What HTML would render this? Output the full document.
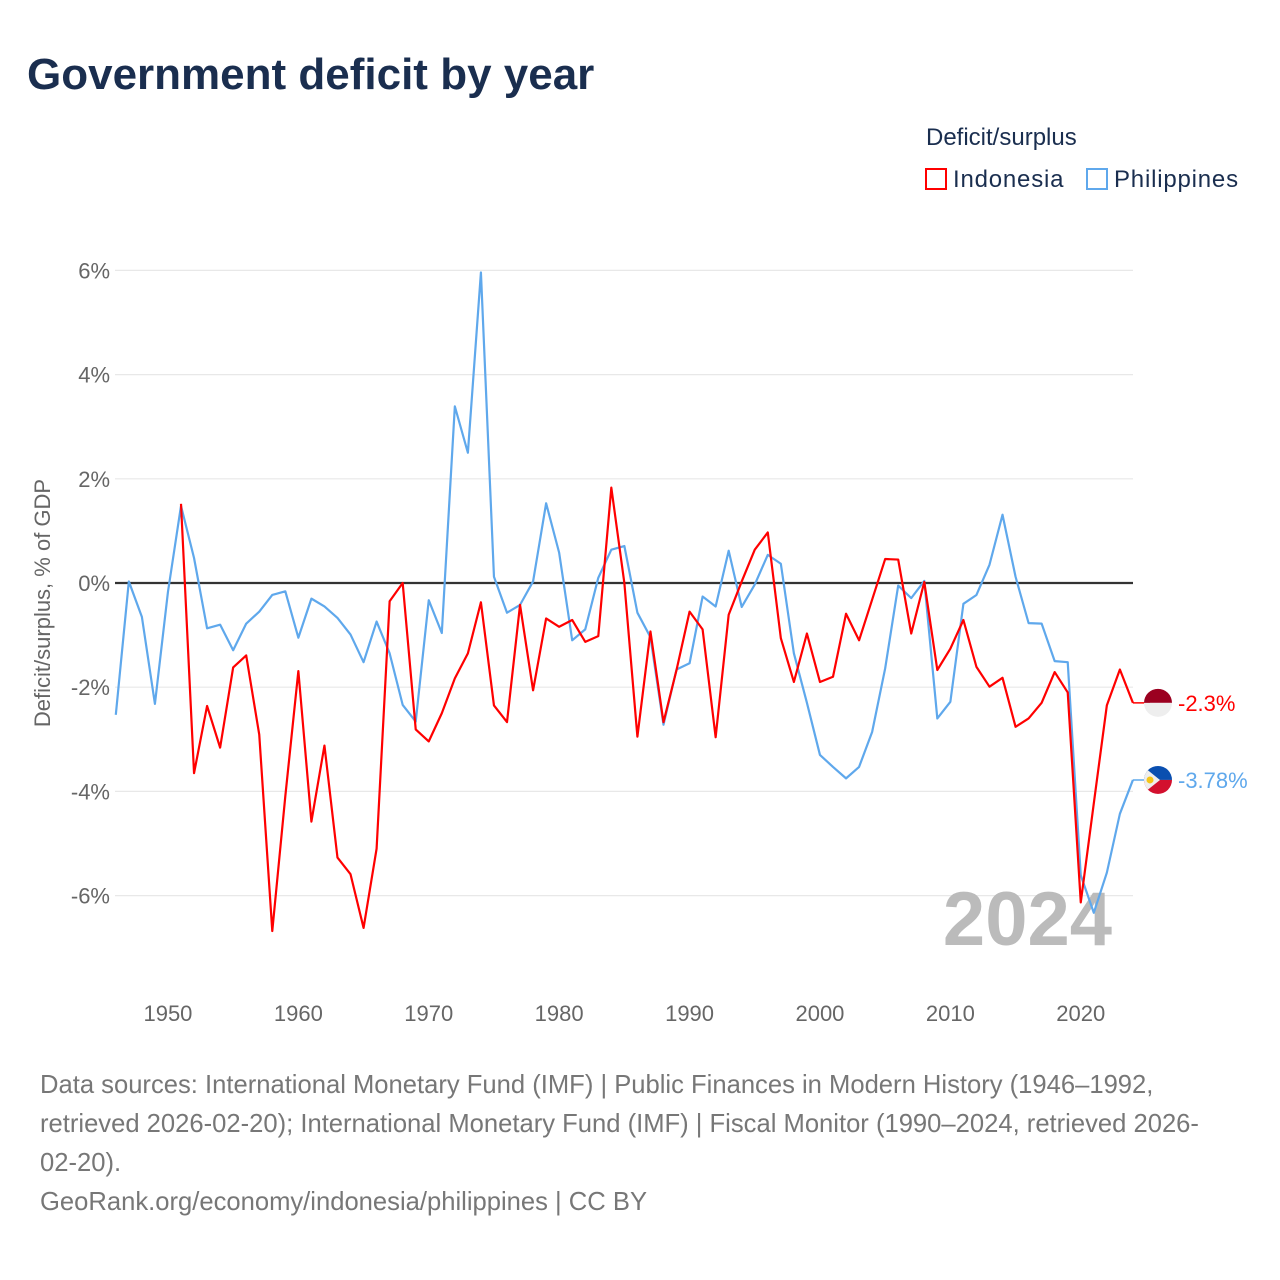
<!DOCTYPE html>
<html><head><meta charset="utf-8"><style>
body{margin:0;width:1280px;height:1280px;background:#fff;font-family:"Liberation Sans",sans-serif;position:relative;overflow:hidden}
.t{position:absolute;white-space:nowrap}
</style></head><body>
<div class="t" style="left:27px;top:50px;font-size:44px;font-weight:bold;color:#1a2e4f">Government deficit by year</div>
<div class="t" style="left:926px;top:124px;font-size:24px;color:#1a2e4f">Deficit/surplus</div>
<div class="t" style="left:925px;top:166px;font-size:24px;color:#1a2e4f;letter-spacing:0.8px"><span style="display:inline-block;width:22px;height:22px;border:2px solid #f00;box-sizing:border-box;vertical-align:-3px;margin-right:6px"></span>Indonesia</div>
<div class="t" style="left:1086px;top:166px;font-size:24px;color:#1a2e4f;letter-spacing:0.8px"><span style="display:inline-block;width:22px;height:22px;border:2px solid #5fa8ec;box-sizing:border-box;vertical-align:-3px;margin-right:6px"></span>Philippines</div>
<svg id="chart" width="1280" height="1280" style="position:absolute;left:0;top:0" xmlns="http://www.w3.org/2000/svg"></svg>
<div class="t" style="left:40px;top:1066px;font-size:25.6px;line-height:39px;color:#777">Data sources: International Monetary Fund (IMF) | Public Finances in Modern History (1946–1992,<br>retrieved 2026-02-20); International Monetary Fund (IMF) | Fiscal Monitor (1990–2024, retrieved 2026-<br>02-20).<br>GeoRank.org/economy/indonesia/philippines | CC BY</div>
<script>
const yTicks=[6,4,2,0,-2,-4,-6];
const xTicks=[1950,1960,1970,1980,1990,2000,2010,2020];
const phYears=[];for(let y=1946;y<=2024;y++)phYears.push(y);
const phValues=[-2.53,0.03,-0.65,-2.32,-0.17,1.48,0.48,-0.87,-0.8,-1.29,-0.78,-0.55,-0.23,-0.16,-1.05,-0.3,-0.45,-0.67,-0.99,-1.52,-0.74,-1.35,-2.34,-2.66,-0.33,-0.96,3.39,2.5,5.96,0.12,-0.57,-0.42,0.03,1.53,0.58,-1.1,-0.89,0.1,0.64,0.71,-0.57,-1.04,-2.72,-1.66,-1.54,-0.26,-0.45,0.62,-0.46,-0.03,0.54,0.37,-1.35,-2.3,-3.3,-3.53,-3.75,-3.53,-2.86,-1.64,-0.05,-0.29,0.04,-2.6,-2.28,-0.4,-0.23,0.35,1.31,0.12,-0.77,-0.78,-1.5,-1.52,-5.61,-6.33,-5.56,-4.43,-3.78];
const idYears=[];for(let y=1951;y<=2024;y++)idYears.push(y);
const idValues=[1.52,-3.65,-2.36,-3.16,-1.62,-1.39,-2.91,-6.68,-4.09,-1.69,-4.58,-3.12,-5.27,-5.59,-6.62,-5.1,-0.35,0,-2.81,-3.04,-2.5,-1.83,-1.35,-0.37,-2.35,-2.67,-0.42,-2.06,-0.68,-0.84,-0.71,-1.13,-1.02,1.83,0,-2.95,-0.93,-2.67,-1.67,-0.55,-0.89,-2.96,-0.61,0.03,0.64,0.97,-1.06,-1.9,-0.97,-1.9,-1.8,-0.59,-1.1,-0.32,0.46,0.45,-0.97,0.02,-1.67,-1.26,-0.71,-1.61,-1.99,-1.82,-2.76,-2.6,-2.3,-1.71,-2.1,-6.13,-4.23,-2.35,-1.66,-2.3];
const svg=document.getElementById('chart');const NS='http://www.w3.org/2000/svg';
const X=yr=>115.8+(yr-1946)*13.04;
const Y=v=>583-v*52.1;
function mk(t,a){const e=document.createElementNS(NS,t);for(const k in a)e.setAttribute(k,a[k]);svg.appendChild(e);return e;}
yTicks.forEach(v=>{
 const g=mk('line',{x1:115,x2:1133,y1:Y(v),y2:Y(v),stroke:v===0?'#333':'#e8e8e8','stroke-width':v===0?2.2:1.2});
 
 
 const t=mk('text',{x:110,y:Y(v)+8,'text-anchor':'end','font-size':22,fill:'#666','font-family':'Liberation Sans'});
 t.textContent=v+'%';
 
 
});
xTicks.forEach(yr=>{
 const t=mk('text',{x:X(yr),y:1021,'text-anchor':'middle','font-size':22,fill:'#666','font-family':'Liberation Sans'});
 t.textContent=yr;
 
 
});
const yl=mk('text',{x:0,y:0,transform:'translate(50,603) rotate(-90)','text-anchor':'middle','font-size':22,fill:'#666','font-family':'Liberation Sans'});
yl.textContent='Deficit/surplus, % of GDP';


const yr=mk('text',{x:1112,y:945,'text-anchor':'end','font-size':76,'font-weight':'bold',fill:'#bbb','font-family':'Liberation Sans'});
yr.textContent='2024';


function line(years,vals,col,name){
 const p=mk('polyline',{points:years.map((y,i)=>X(y)+','+Y(vals[i])).join(' '),fill:'none',stroke:col,'stroke-width':2.2,'stroke-linejoin':'round'});
 
 
}
line(phYears,phValues,'#5fa8ec','philippines-line');
line(idYears,idValues,'#f00','indonesia-line');
function endLabel(vals,col,name,txt,flag){
 const v=vals[vals.length-1],y=Y(v);
 mk('line',{x1:X(2024),x2:1150,y1:y,y2:y,stroke:col,'stroke-width':1.5});
 const g=mk('g',{});
 
 
 if(flag==='id'){
  g.innerHTML=`<path d="M1144 ${y} a14 14 0 0 1 28 0z" fill="#9b0020"/><path d="M1144 ${y} a14 14 0 0 0 28 0z" fill="#eee"/>`;
 }else{
  g.innerHTML=`<clipPath id="phc"><circle cx="1158" cy="${y}" r="14"/></clipPath><g clip-path="url(#phc)"><rect x="1144" y="${y-14}" width="28" height="14" fill="#0a4fb0"/><rect x="1144" y="${y}" width="28" height="14" fill="#d3102e"/><path d="M1140 ${y-16} L1160 ${y} L1140 ${y+16}z" fill="#eee"/><circle cx="1150" cy="${y}" r="3.5" fill="#f5c518"/></g>`;
 }
 const t=mk('text',{x:1178,y:y+8,'font-size':22,fill:col,'font-family':'Liberation Sans'});
 t.textContent=txt;
 
 
}
endLabel(idValues,'#f00','indonesia','-2.3%','id');
endLabel(phValues,'#5fa8ec','philippines','-3.78%','ph');
</script>
</body></html>
